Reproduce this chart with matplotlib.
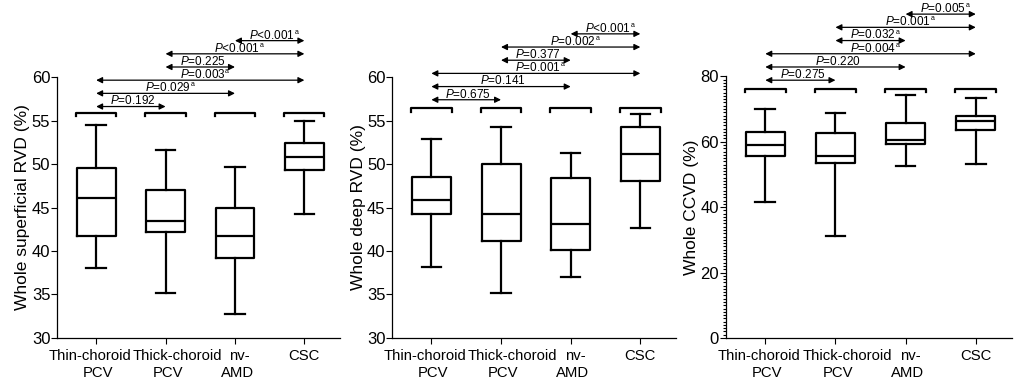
import matplotlib
matplotlib.use('Agg')
import matplotlib.pyplot as plt
from matplotlib.ticker import MultipleLocator

plt.rcParams['font.family'] = ['Liberation Sans', 'DejaVu Sans']
plt.rcParams['mathtext.fontset'] = 'custom'
plt.rcParams['mathtext.rm'] = 'Liberation Sans'
plt.rcParams['mathtext.it'] = 'Liberation Sans:italic'

groups = ['Thin-choroid\nPCV', 'Thick-choroid\nPCV', 'nv-\nAMD', 'CSC']
pairs = [(1, 2), (1, 3), (1, 4), (2, 3), (2, 4), (3, 4)]

# whole superficial RVD (%)
sup_lo = [38.1, 35.2, 32.7, 44.2]
sup_q1 = [41.7, 42.2, 39.2, 49.3]
sup_med = [46.1, 43.4, 41.7, 50.8]
sup_q3 = [49.5, 47.0, 45.0, 52.4]
sup_hi = [54.5, 51.6, 49.7, 54.9]
sup_p = ['=0.192', '=0.029', '=0.003', '=0.225', '<0.001', '<0.001']
sup_sig = [False, True, True, False, True, True]

# whole deep RVD (%)
deep_lo = [38.2, 35.2, 37.0, 42.6]
deep_q1 = [44.2, 41.1, 40.1, 48.1]
deep_med = [45.9, 44.3, 43.1, 51.2]
deep_q3 = [48.5, 50.0, 48.4, 54.2]
deep_hi = [52.9, 54.3, 51.3, 55.7]
deep_p = ['=0.675', '=0.141', '=0.001', '=0.377', '=0.002', '<0.001']
deep_sig = [False, False, True, False, True, True]

# whole CCVD (%)
ccvd_lo = [41.7, 31.2, 52.6, 53.3]
ccvd_q1 = [55.6, 53.5, 59.3, 63.5]
ccvd_med = [59.1, 55.6, 60.5, 66.4]
ccvd_q3 = [63.0, 62.6, 65.6, 67.9]
ccvd_hi = [70.1, 68.8, 74.3, 73.4]
ccvd_p = ['=0.275', '=0.220', '=0.004', '=0.032', '=0.001', '=0.005']
ccvd_sig = [False, False, True, True, True, True]

# small nudges of the first label line, as in the original figure
line1_shift = [-0.09, 0.17, 0.07, 0.0]


def draw_panel(ax, lo, q1, med, q3, hi, pvals, sig, ylabel, ylim, major,
               bracket_y, arrow_y0, minor=None):
    stats = []
    for i in range(len(groups)):
        stats.append(dict(whislo=lo[i], q1=q1[i], med=med[i], q3=q3[i],
                          whishi=hi[i], fliers=[]))
    lp = dict(color='black', linewidth=1.6)
    ax.bxp(stats, positions=[1, 2, 3, 4], widths=0.56, showfliers=False,
           boxprops=lp, whiskerprops=lp, capprops=lp, medianprops=lp)

    ax.set_xlim(0.44, 4.51)
    ax.set_ylim(*ylim)
    ax.set_xticks([1, 2, 3, 4])
    ax.set_xticklabels([])
    ax.yaxis.set_major_locator(MultipleLocator(major))
    if minor:
        ax.yaxis.set_minor_locator(MultipleLocator(minor))
        ax.tick_params(axis='y', which='minor', length=2, width=0.8)
    ax.tick_params(axis='y', labelsize=12, length=4, width=0.8, pad=1)
    ax.tick_params(axis='x', length=4, width=0.8)
    ax.set_ylabel(ylabel, fontsize=12.5, labelpad=1)
    ax.spines['top'].set_visible(False)
    ax.spines['right'].set_visible(False)
    ax.spines['left'].set_linewidth(0.9)
    ax.spines['bottom'].set_linewidth(0.9)

    trans = ax.get_xaxis_transform()

    # category labels, drawn line by line
    for i, g in enumerate(groups):
        lines = g.split('\n')
        ax.text(i + 1 + line1_shift[i], -0.084, lines[0], transform=trans,
                ha='center', va='baseline', fontsize=10.7)
        if len(lines) > 1:
            ax.text(i + 1.03, -0.149, lines[1], transform=trans,
                    ha='center', va='baseline', fontsize=10.7)

    # group brackets
    for c in [1, 2, 3, 4]:
        ax.plot([c - 0.29, c - 0.29, c + 0.29, c + 0.29],
                [bracket_y - 0.014, bracket_y, bracket_y, bracket_y - 0.014],
                color='black', lw=1.6, transform=trans, clip_on=False)

    # comparison arrows
    for k, (a, b) in enumerate(pairs):
        y = arrow_y0 + k * 0.0505
        ax.annotate('', xy=(b, y), xytext=(a, y), xycoords=trans,
                    textcoords=trans, annotation_clip=False,
                    arrowprops=dict(arrowstyle='<|-|>', color='black',
                                    lw=0.9, mutation_scale=9,
                                    shrinkA=0, shrinkB=0))
        t = ax.text((a + b) / 2 + 0.03, y + 0.008, r'$\it{P}$' + pvals[k],
                    transform=trans, ha='center', va='baseline', fontsize=8.5)
        if sig[k]:
            ax.annotate('a', xy=(1.0, 0.45), xycoords=t, fontsize=5,
                        ha='left', va='bottom', annotation_clip=False)


fig = plt.figure(figsize=(10.16, 3.86), dpi=100)
ax1 = fig.add_axes([0.0564, 0.1244, 0.278, 0.676])
ax2 = fig.add_axes([0.3862, 0.1244, 0.279, 0.676])
ax3 = fig.add_axes([0.7146, 0.1244, 0.281, 0.678])

draw_panel(ax1, sup_lo, sup_q1, sup_med, sup_q3, sup_hi, sup_p, sup_sig,
           'Whole superficial RVD (%)', (30, 60), 5, 0.863, 0.887)
draw_panel(ax2, deep_lo, deep_q1, deep_med, deep_q3, deep_hi, deep_p, deep_sig,
           'Whole deep RVD (%)', (30, 60), 5, 0.88, 0.913)
draw_panel(ax3, ccvd_lo, ccvd_q1, ccvd_med, ccvd_q3, ccvd_hi, ccvd_p, ccvd_sig,
           'Whole CCVD (%)', (0, 80), 20, 0.9525, 0.985, minor=1)

plt.savefig('out.png', dpi=100)
plt.close()
